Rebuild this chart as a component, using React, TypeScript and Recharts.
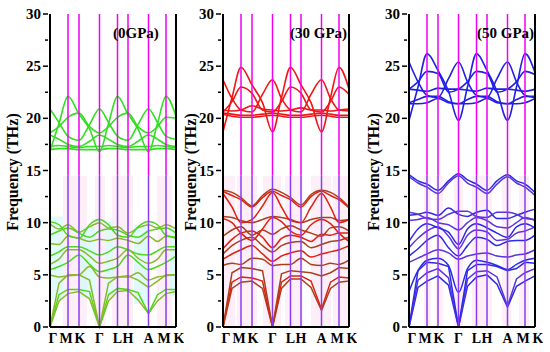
import { LineChart, Line, XAxis, YAxis, ReferenceLine, ReferenceArea } from 'recharts';

// k-path positions: Γ, ½ΓM, M, K, ½KΓ, Γ, ½ΓL, L, H, ½HA, A, ½AM, M, K
const kPath = [0, 9, 18, 29, 39.5, 49.5, 58.5, 67.5, 78, 88, 98.5, 107.5, 116, 126];
const symPoints = [0, 18, 29, 49.5, 67.5, 78, 98.5, 116, 126];
const symLabels = ['Γ', 'M', 'K', 'Γ', 'L', 'H', 'A', 'M', 'K'];
const labelShift = [3, -2, 1, 0, 0, 0, 0, -2, 3];
const freqTicks = [0, 2.5, 5, 7.5, 10, 12.5, 15, 17.5, 20, 22.5, 25, 27.5, 30];

// 0 GPa
const upper0 = [
  [16.9, 19.5, 22.1, 20.4, 19.0, 16.8, 19.5, 22.1, 20.4, 19.0, 16.8, 19.5, 22.1, 20.2],
  [20.9, 19.6, 18.3, 17.9, 19.4, 20.9, 19.6, 18.3, 17.9, 19.4, 20.9, 19.6, 18.3, 18.0],
  [18.6, 19.2, 20.1, 20.5, 19.2, 18.6, 19.2, 20.1, 20.5, 19.2, 18.6, 19.2, 20.1, 20.0],
  [18.4, 18.0, 17.5, 17.3, 17.8, 18.4, 18.0, 17.5, 17.3, 17.8, 18.4, 18.0, 17.5, 17.3],
  [17.3, 17.4, 17.3, 17.2, 17.3, 17.3, 17.4, 17.3, 17.2, 17.3, 17.3, 17.4, 17.3, 17.2],
  [17.0, 17.1, 17.1, 17.0, 17.0, 17.0, 17.1, 17.1, 17.0, 17.0, 17.0, 17.1, 17.1, 17.0],
];
const acoustic0 = [
  [0, 2.5, 3.2, 3.4, 2.7, 0, 2.5, 3.4, 3.5, 2.6, 1.3, 2.5, 3.2, 3.4],
  [0, 3.1, 3.6, 3.6, 3.4, 0, 3.1, 3.7, 3.6, 3.3, 1.3, 3.1, 3.6, 3.6],
  [0, 4.2, 5.0, 5.0, 4.5, 0, 4.2, 4.8, 4.9, 4.5, 3.8, 4.4, 5.0, 5.0],
];
const optical0 = [
  [5.0, 4.8, 4.9, 5.0, 5.8, 4.8, 4.7, 4.8, 4.8, 5.2, 4.5, 4.8, 4.9, 5.0],
  [5.5, 5.8, 6.2, 6.9, 6.0, 5.3, 5.5, 5.8, 6.9, 6.2, 5.5, 5.8, 6.2, 6.8],
  [6.0, 6.5, 7.4, 7.4, 6.8, 6.1, 6.3, 6.6, 7.4, 6.6, 6.1, 6.5, 7.4, 7.4],
  [6.8, 7.2, 7.7, 7.7, 7.3, 6.9, 7.2, 7.7, 7.4, 7.0, 6.9, 7.3, 7.7, 7.7],
  [8.0, 7.9, 8.7, 8.5, 8.2, 8.4, 8.3, 8.5, 8.3, 8.0, 8.7, 8.2, 8.7, 8.5],
  [8.8, 9.2, 9.5, 9.0, 8.6, 9.2, 9.4, 9.3, 8.8, 8.6, 9.2, 9.4, 9.5, 9.0],
  [9.9, 9.4, 9.8, 9.1, 9.6, 10.0, 9.5, 9.6, 9.0, 9.5, 9.8, 9.5, 9.8, 9.4],
  [10.1, 9.8, 8.8, 8.5, 9.8, 10.3, 9.8, 8.8, 8.6, 9.6, 10.1, 9.8, 8.8, 8.6],
];

// 30 GPa
const upper30 = [
  [18.7, 22.0, 24.9, 23.2, 21.5, 18.7, 22.0, 24.9, 23.2, 21.5, 18.7, 22.0, 24.9, 22.8],
  [23.7, 21.9, 20.8, 20.6, 22.3, 23.7, 21.9, 20.8, 20.6, 22.3, 23.7, 21.9, 20.8, 20.7],
  [20.6, 21.6, 23.0, 22.4, 20.8, 20.6, 21.6, 23.0, 22.4, 20.8, 20.6, 21.6, 23.0, 22.3],
  [20.8, 20.7, 20.8, 21.2, 20.9, 20.8, 20.7, 20.8, 21.0, 20.8, 20.8, 20.7, 20.8, 20.9],
  [20.5, 20.4, 20.3, 20.3, 20.4, 20.5, 20.4, 20.3, 20.3, 20.4, 20.5, 20.4, 20.3, 20.3],
  [20.4, 20.2, 20.1, 20.1, 20.2, 20.3, 20.2, 20.1, 20.1, 20.2, 20.3, 20.2, 20.1, 20.1],
];
const acoustic30 = [
  [0, 3.7, 4.3, 4.4, 3.7, 0, 3.7, 4.6, 4.6, 3.8, 1.6, 3.7, 4.3, 4.4],
  [0, 4.3, 4.8, 4.7, 4.4, 0, 4.3, 4.9, 4.9, 4.4, 1.7, 4.3, 4.8, 4.7],
  [0, 5.2, 5.7, 5.6, 5.4, 0, 5.1, 5.4, 5.3, 5.2, 4.9, 5.2, 5.7, 5.6],
];
const optical30 = [
  [5.9, 6.1, 6.0, 6.6, 6.5, 5.9, 6.0, 6.0, 6.6, 6.0, 5.9, 6.1, 6.0, 6.4],
  [6.5, 7.0, 7.4, 7.8, 7.0, 6.3, 6.8, 7.1, 7.3, 6.7, 7.0, 7.2, 7.4, 7.8],
  [7.0, 7.8, 8.3, 8.6, 7.8, 7.2, 7.8, 8.1, 8.2, 7.6, 7.9, 8.2, 8.3, 8.6],
  [7.5, 8.4, 9.0, 9.2, 8.6, 7.6, 8.5, 8.8, 8.6, 8.2, 8.9, 8.8, 9.0, 9.0],
  [8.7, 9.3, 9.6, 8.8, 9.3, 8.9, 9.4, 9.7, 9.3, 9.0, 8.7, 9.5, 9.6, 9.2],
  [10.4, 10.0, 9.0, 8.3, 9.4, 10.5, 10.1, 9.2, 8.8, 9.8, 10.3, 9.9, 9.0, 8.2],
  [10.6, 10.5, 10.2, 10.0, 10.3, 10.6, 10.5, 10.3, 10.0, 10.3, 10.5, 10.5, 10.2, 10.3],
  [12.8, 11.5, 10.0, 10.3, 11.6, 12.9, 11.5, 10.2, 10.0, 11.5, 12.8, 11.5, 10.0, 10.3],
  [13.1, 12.9, 12.4, 11.6, 12.6, 13.2, 12.9, 12.4, 11.7, 12.7, 13.1, 12.9, 12.4, 11.5],
  [13.0, 12.6, 12.2, 11.5, 12.4, 13.0, 12.6, 12.2, 11.5, 12.5, 13.0, 12.6, 12.2, 11.4],
];

// 50 GPa
const upper50 = [
  [19.8, 23.0, 26.2, 24.6, 22.6, 19.8, 23.0, 26.2, 24.6, 22.6, 19.8, 23.0, 26.2, 24.4],
  [25.4, 23.5, 22.2, 22.0, 23.8, 25.4, 23.5, 22.2, 22.0, 23.8, 25.4, 23.5, 22.2, 22.0],
  [22.8, 23.5, 24.5, 24.3, 22.5, 22.8, 23.5, 24.5, 24.3, 22.5, 22.8, 23.5, 24.5, 24.2],
  [22.8, 22.7, 22.6, 22.9, 22.8, 22.8, 22.7, 22.6, 22.9, 22.8, 22.8, 22.7, 22.6, 22.8],
  [21.5, 21.8, 22.1, 22.1, 21.6, 21.4, 21.8, 22.1, 22.1, 21.6, 21.4, 21.8, 22.1, 22.1],
  [21.4, 21.4, 21.5, 21.9, 21.5, 21.4, 21.4, 21.5, 21.9, 21.5, 21.4, 21.4, 21.5, 21.9],
];
const acoustic50 = [
  [0, 3.8, 4.4, 4.9, 4.0, 0, 3.9, 4.8, 5.0, 4.1, 1.9, 3.9, 4.4, 4.9],
  [0, 4.5, 5.2, 5.6, 4.7, 0, 4.6, 5.3, 5.4, 4.8, 2.0, 4.6, 5.2, 5.6],
  [0, 5.4, 6.2, 6.1, 5.8, 0, 5.4, 6.0, 6.0, 5.8, 5.4, 5.6, 6.2, 6.1],
];
const optical50 = [
  [3.4, 5.4, 6.4, 6.6, 5.9, 3.3, 5.6, 6.4, 6.2, 5.9, 5.5, 6.0, 6.4, 6.6],
  [6.2, 6.6, 7.0, 7.4, 7.1, 6.5, 6.8, 7.0, 7.1, 6.8, 6.7, 6.9, 7.0, 7.4],
  [6.8, 7.5, 8.3, 8.8, 7.6, 6.8, 7.8, 8.6, 8.4, 7.8, 8.2, 8.3, 8.3, 8.8],
  [7.6, 8.5, 9.2, 9.6, 8.7, 7.5, 8.8, 9.3, 9.1, 8.3, 8.4, 9.0, 9.2, 9.6],
  [8.2, 9.4, 9.9, 9.5, 9.1, 7.9, 9.4, 9.9, 9.5, 9.0, 8.6, 9.6, 9.9, 9.5],
  [10.2, 10.3, 10.5, 10.0, 9.8, 9.3, 10.0, 10.5, 10.2, 9.6, 9.5, 10.0, 10.5, 10.2],
  [10.7, 10.8, 11.0, 10.7, 11.4, 10.8, 10.6, 11.0, 11.2, 10.4, 10.4, 10.7, 11.0, 11.3],
  [11.0, 10.8, 10.4, 10.3, 10.8, 11.1, 11.1, 10.6, 10.5, 11.0, 11.0, 10.8, 10.4, 10.3],
  [14.6, 14.0, 13.7, 13.1, 14.0, 14.7, 14.1, 13.7, 13.1, 14.0, 14.6, 14.0, 13.7, 12.9],
  [14.4, 13.8, 13.4, 12.8, 13.8, 14.5, 13.8, 13.4, 12.8, 13.7, 14.4, 13.8, 13.4, 12.6],
];

const pink0 = [[13, 37], [45, 55], [62, 83], [107, 122]];
const pink30 = [[0, 12], [14, 34], [40, 58], [62, 80], [88, 108], [110, 126]];
const pink50 = [[15, 22], [27, 34], [45, 54], [63, 83], [93, 102], [110, 120]];
const cyan0 = [[0, 13, 2.6, 10.6], [30, 45, 2.8, 9.6], [55, 63, 3, 10.2], [84, 98, 2.2, 9.8], [120, 126, 3, 9.6]];

const font = '"Liberation Serif", "Times New Roman", serif';

function YTick(props: any) {
  const { x, y, payload } = props;
  const major = payload.value % 5 === 0;
  return (
    <g>
      <line x1={x - (major ? 5 : 3)} y1={y} x2={x} y2={y} stroke="#000" strokeWidth={1.5} />
      {major && (
        <text x={x - 7} y={y + 5} textAnchor="end" fontFamily={font} fontWeight="bold" fontSize={15} fill="#000">
          {payload.value}
        </text>
      )}
    </g>
  );
}

function XTick(props: any) {
  const { x, y, payload } = props;
  const i = symPoints.indexOf(payload.value);
  return (
    <text x={x + labelShift[i]} y={y + 14} textAnchor="middle" fontFamily={font} fontWeight="bold" fontSize={14} fill="#000">
      {symLabels[i]}
    </text>
  );
}

type PanelProps = {
  left: number;
  upper: number[][];
  acoustic: number[][];
  optical: number[][];
  upColor: string;
  lowColors: string[];
  title: string;
  titleLeft: number;
  labelX: number;
  pink: number[][];
  cyan?: number[][];
};

function Panel({ left, upper, acoustic, optical, upColor, lowColors, title, titleLeft, labelX, pink, cyan = [] }: PanelProps) {
  const data = kPath.map((k, i) => {
    const row: Record<string, number> = { k };
    upper.forEach((b, j) => (row['u' + j] = b[i]));
    acoustic.forEach((b, j) => (row['a' + j] = b[i]));
    optical.forEach((b, j) => (row['o' + j] = b[i]));
    return row;
  });
  const inner = symPoints.slice(1, -1);
  return (
    <>
      <div style={{ position: 'absolute', left, top: 0 }}>
        <LineChart width={184} height={352} data={data} margin={{ top: 14, right: 8, left: 0, bottom: 0 }}>
          {pink.map(([a, b], i) => (
            <ReferenceArea key={'p' + i} x1={a} x2={b} y1={0} y2={14.5} fill="#fbe3f4" fillOpacity={0.6} stroke="none" />
          ))}
          {cyan.map(([a, b, c, d], i) => (
            <ReferenceArea key={'c' + i} x1={a} x2={b} y1={c} y2={d} fill="#d2f8f6" fillOpacity={0.7} stroke="none" />
          ))}
          <XAxis
            type="number"
            dataKey="k"
            domain={[0, 126]}
            ticks={symPoints}
            interval={0}
            tickLine={false}
            tickSize={0}
            axisLine={{ stroke: '#000', strokeWidth: 2 }}
            tick={XTick}
            height={25}
          />
          <YAxis
            domain={[0, 30]}
            ticks={freqTicks}
            interval={0}
            width={50}
            tickLine={false}
            tickSize={0}
            axisLine={{ stroke: '#000', strokeWidth: 2 }}
            tick={YTick}
          />
          {upper.map((_, j) => (
            <Line key={'u' + j} dataKey={'u' + j} type="monotone" stroke={upColor} strokeWidth={1.6} dot={false} isAnimationActive={false} />
          ))}
          {optical.map((_, j) => (
            <Line key={'o' + j} dataKey={'o' + j} type="monotone" stroke={lowColors[j % lowColors.length]} strokeWidth={1.5} dot={false} isAnimationActive={false} />
          ))}
          {acoustic.map((_, j) => (
            <Line key={'a' + j} dataKey={'a' + j} type="linear" stroke={lowColors[j % lowColors.length]} strokeWidth={1.5} dot={false} isAnimationActive={false} />
          ))}
          {inner.map((p, i) => (
            <ReferenceLine key={'vl' + i} segment={[{ x: p, y: 0 }, { x: p, y: 14.5 }]} stroke="#8a3cf0" strokeWidth={1.5} />
          ))}
          {inner.map((p, i) => (
            <ReferenceLine key={'vu' + i} segment={[{ x: p, y: 14.5 }, { x: p, y: 30 }]} stroke="#f000f0" strokeWidth={1.5} />
          ))}
          <ReferenceLine x={126} stroke="#000" strokeWidth={2} />
        </LineChart>
      </div>
      <div
        style={{
          position: 'absolute',
          left: labelX,
          top: 172,
          transform: 'translate(-50%, -50%) rotate(-90deg)',
          whiteSpace: 'nowrap',
          fontFamily: font,
          fontWeight: 'bold',
          fontSize: 16,
        }}
      >
        Frequency (THz)
      </div>
      <div
        style={{
          position: 'absolute',
          left: titleLeft,
          top: 24,
          whiteSpace: 'nowrap',
          fontFamily: font,
          fontWeight: 'bold',
          fontSize: 15,
          lineHeight: '18px',
        }}
      >
        {title}
      </div>
    </>
  );
}

export default function App() {
  return (
    <div style={{ position: 'absolute', left: 0, top: 0, width: 550, height: 352, background: '#fff', overflow: 'hidden' }}>
      <Panel left={0} upper={upper0} acoustic={acoustic0} optical={optical0} upColor="#33dd22"
        lowColors={['#8db82a', '#4fd61c']} title="(0GPa)" titleLeft={113} labelX={13} pink={pink0} cyan={cyan0} />
      <Panel left={173} upper={upper30} acoustic={acoustic30} optical={optical30} upColor="#f01414"
        lowColors={['#a8401c', '#e0200f']} title="(30 GPa)" titleLeft={290} labelX={191} pink={pink30} />
      <Panel left={359} upper={upper50} acoustic={acoustic50} optical={optical50} upColor="#1f1fe6"
        lowColors={['#2a2ae8', '#5a34dc']} title="(50 GPa)" titleLeft={477} labelX={374} pink={pink50} />
    </div>
  );
}
